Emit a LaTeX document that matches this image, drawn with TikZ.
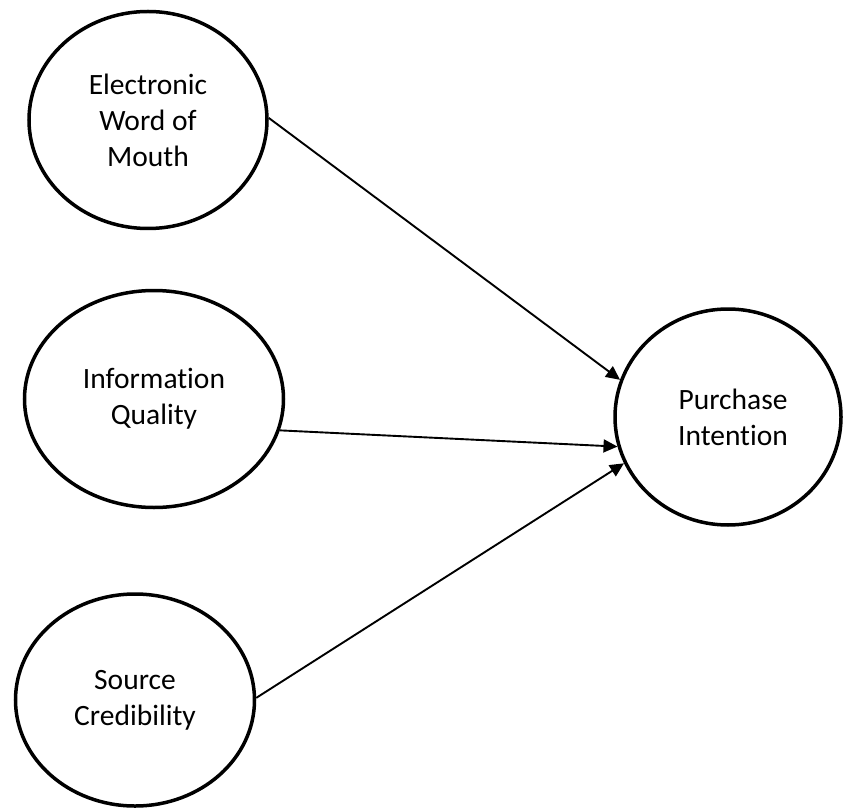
\documentclass[tikz,border=0pt]{standalone}
\usepackage{fontspec}
\setmainfont{Carlito}[Ligatures={NoCommon}]
\usetikzlibrary{shapes.geometric,arrows.meta}
\tikzset{
  construct/.style={draw=black, line width=3.5pt, ellipse, inner sep=0pt, align=center,
    font=\fontsize{29.5}{36}\selectfont},
  path arrow/.style={line width=1.9pt, -{Triangle[length=14pt,width=13pt]}}
}
\begin{document}
\begin{tikzpicture}[x=1pt,y=-1pt]
\useasboundingbox (0,0) rectangle (845,810);
\node[construct, minimum width=238pt, minimum height=217pt] (ewom) at (148,120) {Electronic\\Word of\\Mouth};
\node[construct, minimum width=259pt, minimum height=217pt] (iq) at (154,399) {Information\\Quality};
\node[construct, minimum width=239pt, minimum height=212pt] (sc) at (135,700) {Source\\Credibility};
\node[construct, minimum width=226pt, minimum height=216pt] (pi) at (728,417) {\hspace*{10pt}Purchase\\\hspace*{10pt}Intention};
\draw[path arrow] (ewom.1) -- (pi.161);
\draw[path arrow] (iq.-14) -- (pi.195);
\draw[path arrow] (sc.1) -- (pi.204);
\end{tikzpicture}
\end{document}
